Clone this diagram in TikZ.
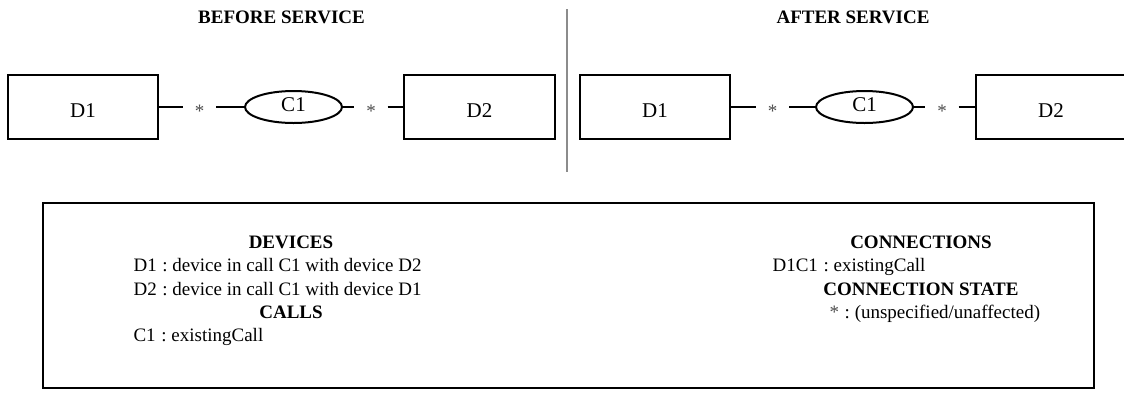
\documentclass[tikz,border=0pt]{standalone}
\usepackage{fontspec}
\setmainfont{Liberation Serif}
\usetikzlibrary{shapes.geometric}
\tikzset{
  x=1pt, y=-1pt,
  devbox/.style={draw, line width=2.4pt, minimum width=150pt, minimum height=64pt, inner sep=0pt,
    font=\fontsize{21}{24}\selectfont, text height=20pt, text depth=0pt},
  callnode/.style={draw, ellipse, line width=2pt, minimum width=97pt, minimum height=32pt, inner sep=0pt,
    font=\fontsize{21}{24}\selectfont, text height=8pt, text depth=0pt},
  starnode/.style={inner sep=0pt, minimum width=33pt, text=black!70,
    font=\fontsize{19}{22}\selectfont, text height=20pt, text depth=0pt},
  conn/.style={line width=2pt},
  title/.style={anchor=base, font=\fontsize{19}{22}\selectfont\bfseries},
  head/.style={anchor=base, font=\fontsize{19}{22}\selectfont\bfseries},
  entry/.style={anchor=base west, font=\fontsize{19}{22}\selectfont},
}
\newcommand{\colsep}{\hspace{0.3em}:\hspace{0.25em}}
\begin{document}
\begin{tikzpicture}
\useasboundingbox (0,0) rectangle (1124,392);
% titles
\node[title] (t1) at (281.5,23) {BEFORE SERVICE};
\node[title] (t2) at (853,23) {AFTER SERVICE};
% divider
\coordinate (dtop) at (567,9);
\coordinate (dbot) at (567,172);
\draw[line width=2pt, color=black!45] (dtop) -- (dbot);
% before
\node[devbox] (bd1) at (83,107) {D1};
\node[starnode] (bs1) at (199.5,107) {*};
\node[callnode] (bc1) at (293.5,107) {C1};
\node[starnode] (bs2) at (371,107) {*};
\node[devbox, minimum width=151pt] (bd2) at (479.5,107) {D2};
\draw[conn] (bd1.east) -- (bs1.west);
\draw[conn] (bs1.east) -- (bc1.west);
\draw[conn] (bc1.east) -- (bs2.west);
\draw[conn] (bs2.east) -- (bd2.west);
% after
\node[devbox] (ad1) at (655,107) {D1};
\node[starnode] (as1) at (772.5,107) {*};
\node[callnode] (ac1) at (864.5,107) {C1};
\node[starnode] (as2) at (942,107) {*};
\node[devbox, minimum width=150pt] (ad2) at (1051,107) {D2};
\draw[conn] (ad1.east) -- (as1.west);
\draw[conn] (as1.east) -- (ac1.west);
\draw[conn] (ac1.east) -- (as2.west);
\draw[conn] (as2.east) -- (ad2.west);
% legend box
\node[draw, line width=2.4pt, minimum width=1051pt, minimum height=185.5pt, inner sep=0pt] (legend) at (568.5,295.5) {};
\node[head] (hdev) at (291,248) {DEVICES};
\node[entry] (e1) at (130,271) {D1\colsep device in call C1 with device D2};
\node[entry] (e2) at (130,295) {D2\colsep device in call C1 with device D1};
\node[head] (hcalls) at (291,318) {CALLS};
\node[entry] (e3) at (130,341) {C1\colsep existingCall};
\node[head] (hconn) at (921,248) {CONNECTIONS};
\node[entry] (e4) at (769,271) {D1C1\colsep existingCall};
\node[head] (hstate) at (921,295) {CONNECTION STATE};
\node[entry] (e5) at (826,318) {{\color{black!70}*}\colsep (unspecified/unaffected)};
\end{tikzpicture}
\end{document}
